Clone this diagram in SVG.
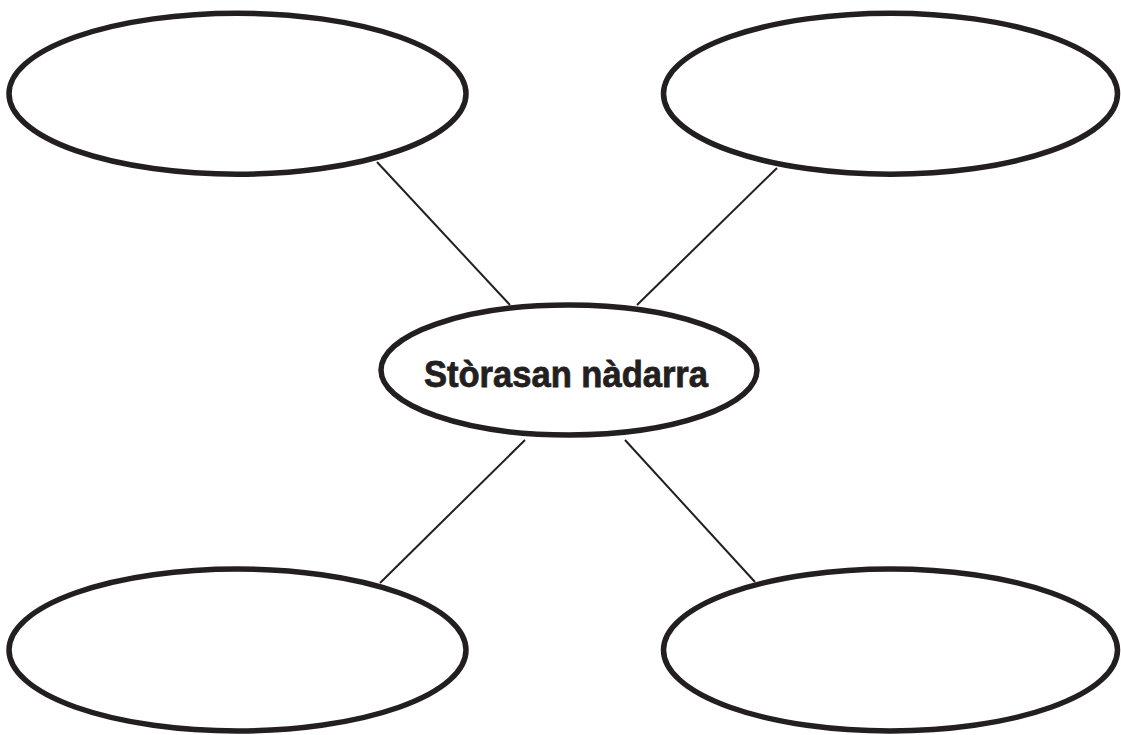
<svg xmlns="http://www.w3.org/2000/svg" width="1121" height="735" viewBox="0 0 1121 735">
<style>
.node{fill:#fff;stroke:#231f20;stroke-width:5.5}
.conn{stroke:#231f20;stroke-width:2;fill:none}
.label{font-family:"Liberation Sans",Arial,sans-serif;font-weight:bold;font-size:37px;fill:#231f20;stroke:#231f20;stroke-width:0.8}
</style>
<rect width="1121" height="735" fill="#fff"/>
<g id="connectors">
<line class="conn" x1="377" y1="162" x2="510" y2="305"/>
<line class="conn" x1="777" y1="168" x2="637" y2="305"/>
<line class="conn" x1="525" y1="440" x2="380" y2="583"/>
<line class="conn" x1="625" y1="440" x2="755" y2="582"/>
</g>
<g id="node-tl"><ellipse class="node" cx="237.5" cy="93.7" rx="228.5" ry="80.5"/></g>
<g id="node-tr"><ellipse class="node" cx="890.5" cy="93.7" rx="227" ry="80.5"/></g>
<g id="node-bl"><ellipse class="node" cx="237.5" cy="650" rx="228.5" ry="81"/></g>
<g id="node-br"><ellipse class="node" cx="890.5" cy="650" rx="227" ry="81"/></g>
<g id="node-center">
<ellipse class="node" cx="569" cy="370" rx="188" ry="65"/>
<text class="label" x="424" y="387" textLength="284" lengthAdjust="spacingAndGlyphs">Stòrasan nàdarra</text>
</g>
</svg>
